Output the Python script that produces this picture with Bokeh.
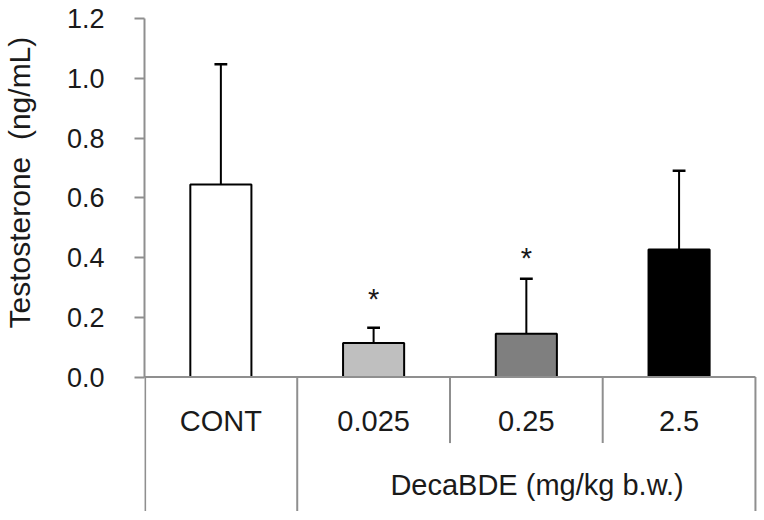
import math
from bokeh.plotting import figure
from bokeh.models import Range1d, FixedTicker, PrintfTickFormatter, Title
from bokeh.core.properties import value
from bokeh.embed import file_html
from bokeh.resources import INLINE

# ---- data ----
categories = ["CONT", "0.025", "0.25", "2.5"]
groups = ["", "DecaBDE", "DecaBDE", "DecaBDE"]
means = [0.644, 0.114, 0.145, 0.427]
err_upper = [1.047, 0.165, 0.329, 0.690]
fills = ["#ffffff", "#bfbfbf", "#7f7f7f", "#000000"]
star_cats = ["0.025", "0.25"]
star_y = [0.262, 0.398]
group_label = "DecaBDE (mg/kg b.w.)"
y_ticks = [0.0, 0.2, 0.4, 0.6, 0.8, 1.0, 1.2]
y_label = "Testosterone \u00a0(ng/mL)"

FONT = "Liberation Sans"
GRAY = "#8f8f8f"
TXT = "#1a1a1a"

n = len(categories)
xc = [i + 0.5 for i in range(n)]

p = figure(width=760, height=516,
           x_range=Range1d(0, n + 0.02), y_range=Range1d(-0.45, 1.21),
           output_backend="svg", toolbar_location=None,
           x_axis_location=None, y_axis_location="left",
           min_border_left=143, min_border_right=2,
           min_border_top=15, min_border_bottom=5)
p.outline_line_color = None
p.grid.visible = False
p.background_fill_color = "white"
p.border_fill_color = "white"

ya = p.yaxis[0]
ya.ticker = FixedTicker(ticks=y_ticks)
ya.formatter = PrintfTickFormatter(format="%.1f")
ya.bounds = (0, 1.2)
ya.axis_line_color = GRAY
ya.axis_line_width = 2
ya.major_tick_line_color = GRAY
ya.major_tick_line_width = 2
ya.major_tick_out = 10
ya.major_tick_in = 0
ya.minor_tick_out = 0
ya.minor_tick_in = 0
ya.minor_tick_line_color = None
ya.major_label_text_font = FONT
ya.major_label_text_font_size = "27px"
ya.major_label_text_color = TXT
ya.major_label_standoff = 30
# invisible spacer label: keeps the title away from the tick labels
ya.axis_label = "\u00a0"
ya.axis_label_text_font_size = "12px"
ya.axis_label_standoff = 11

# bars
p.vbar(x=xc, top=means, bottom=0, width=0.4, fill_color=fills,
       line_color="black", line_width=2)

# error bars (upper only)
cap = 0.042
p.segment(x0=xc, y0=means, x1=xc, y1=err_upper, line_color="black", line_width=2)
p.segment(x0=[x - cap for x in xc], y0=err_upper, x1=[x + cap for x in xc],
          y1=err_upper, line_color="black", line_width=2.5)

# significance stars
sx = [xc[categories.index(c)] for c in star_cats]
p.text(x=sx, y=star_y, text=["*"] * len(sx), text_font=value(FONT),
       text_font_size="29px", text_align="center", text_baseline="alphabetic",
       text_color=TXT)

# table-like category axis
p.segment(x0=[0], y0=[0], x1=[n], y1=[0], line_color=GRAY, line_width=2)
bx, by = [], []
for b in range(n + 1):
    left = groups[b - 1] if b > 0 else None
    right = groups[b] if b < n else None
    full = (b == 0 or b == n or left != right)
    bx.append(b + (0.004 if b == 0 else 0))
    by.append(-0.448 if full else -0.221)
p.segment(x0=bx, y0=[0] * len(bx), x1=bx, y1=by, line_color=GRAY, line_width=2)

p.text(x=xc, y=[-0.146] * n, text=categories, text_font=value(FONT),
       text_font_size="29px", text_align="center", text_baseline="alphabetic",
       text_color=TXT)
p.text(x=[2.57], y=[-0.362], text=[group_label], text_font=value(FONT),
       text_font_size="29px", text_align="center", text_baseline="alphabetic",
       text_color=TXT)

# y-axis title (placed beside the 0..1.2 part of the axis)
p.add_layout(Title(text=y_label, align="left", offset=183, standoff=0,
                   text_font=FONT, text_font_size="30px",
                   text_font_style="normal", text_color=TXT), "left")

open("out.html", "w").write(file_html(p, INLINE))
